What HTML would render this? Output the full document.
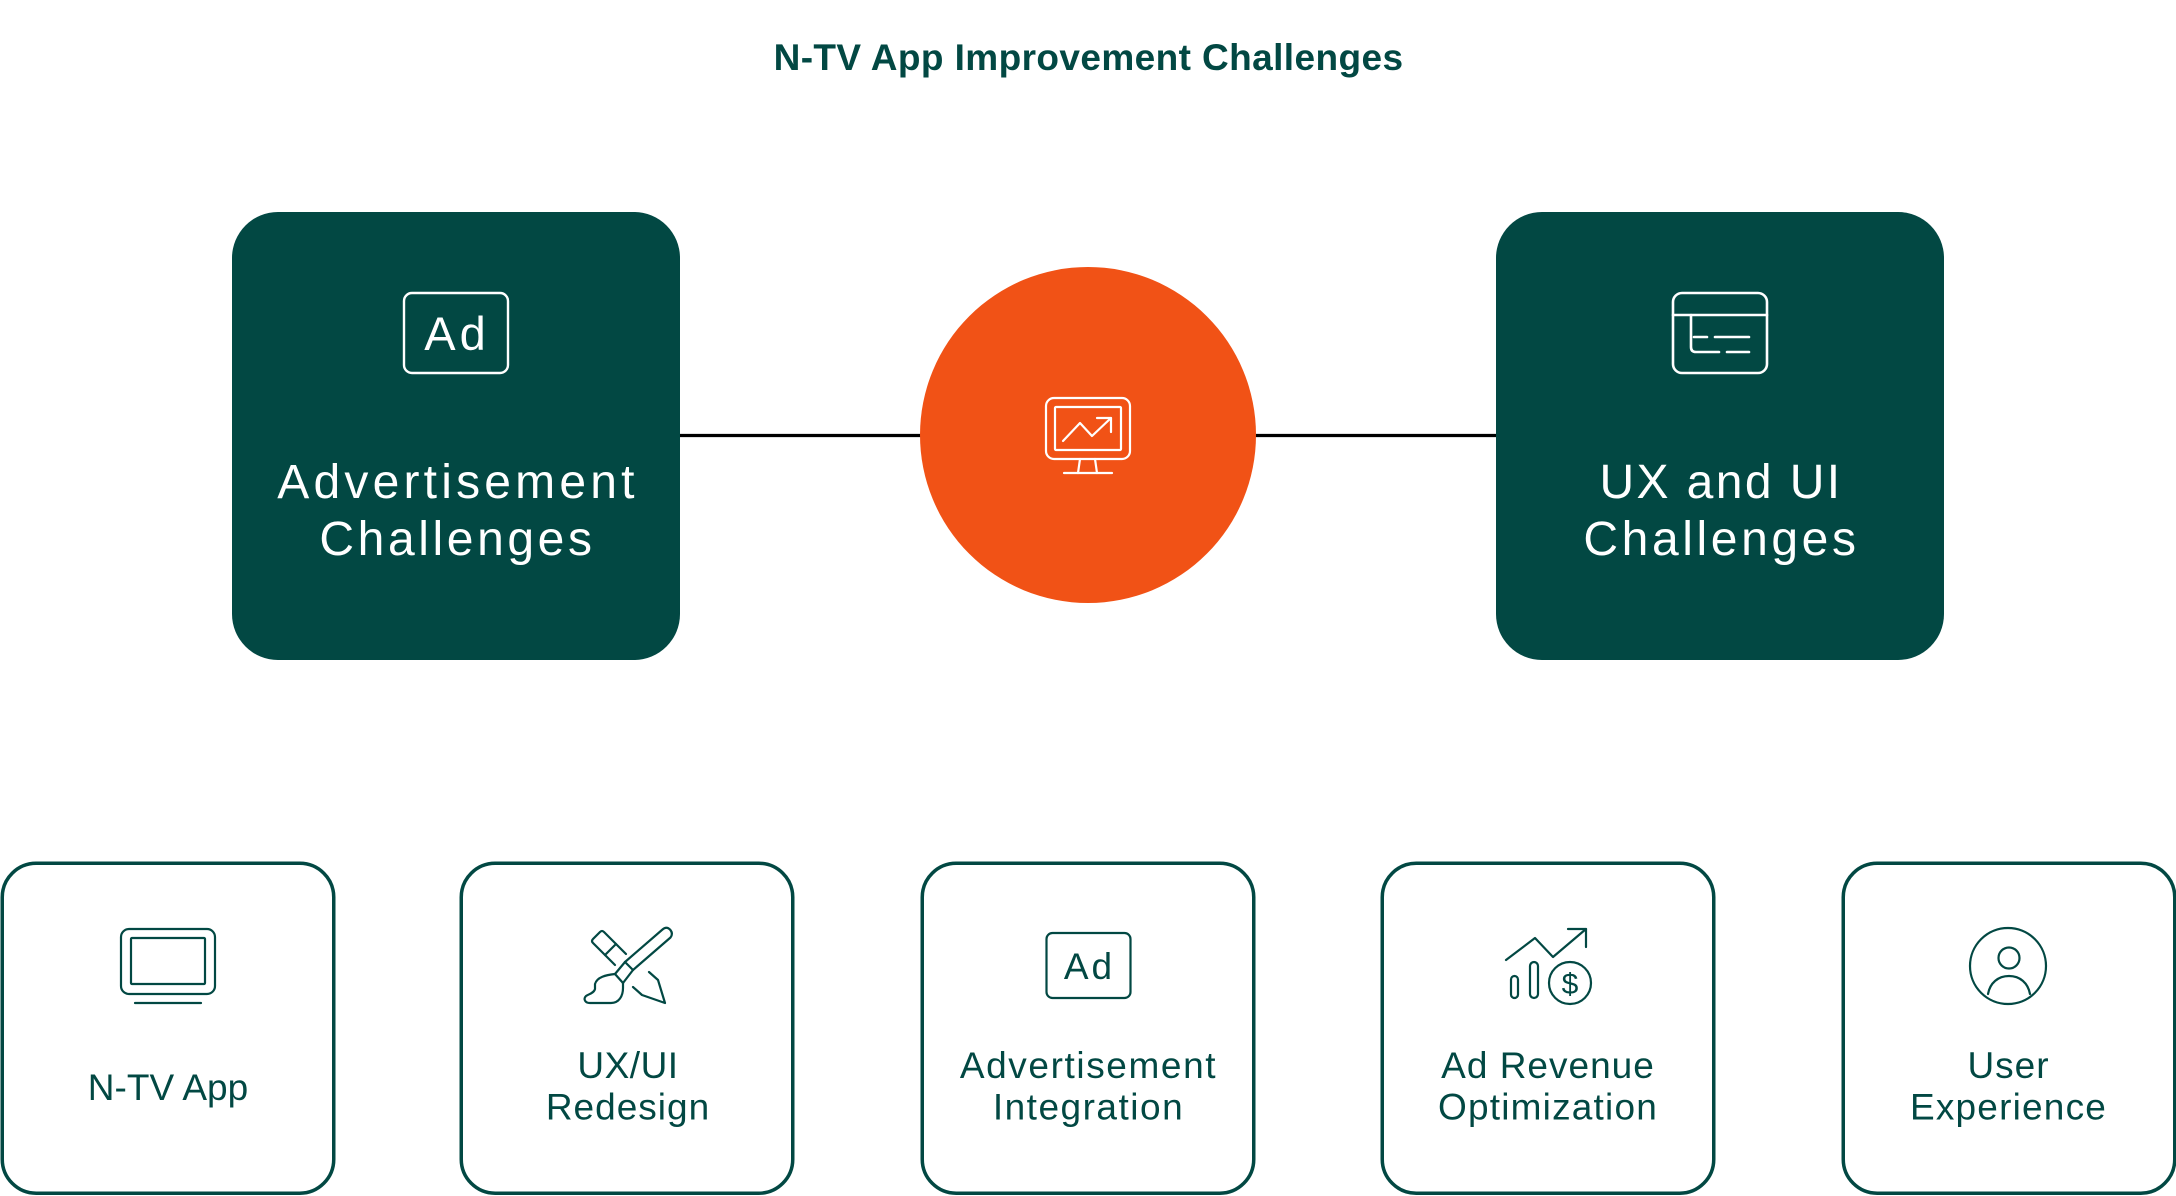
<!DOCTYPE html>
<html>
<head>
<meta charset="utf-8">
<style>
  html,body{margin:0;padding:0;background:#ffffff;}
  body{width:2176px;height:1196px;overflow:hidden;}
  svg{display:block;}
  .t{font-family:"Liberation Sans",Arial,sans-serif;}
</style>
</head>
<body>
<svg width="2176" height="1196" viewBox="0 0 2176 1196" xmlns="http://www.w3.org/2000/svg">
  <rect x="0" y="0" width="2176" height="1196" fill="#ffffff"/>

  <!-- Title -->
  <text class="t" x="1088.5" y="70" text-anchor="middle" font-size="37" font-weight="bold" fill="#024843" letter-spacing="0.4">N-TV App Improvement Challenges</text>

  <!-- Connector line -->
  <line x1="678" y1="435.5" x2="1498" y2="435.5" stroke="#000000" stroke-width="3.2"/>

  <!-- Left dark box -->
  <rect x="232" y="212" width="448" height="448" rx="46" ry="46" fill="#024843"/>
  <rect x="404" y="293" width="104" height="80" rx="8" ry="8" fill="none" stroke="#ffffff" stroke-width="2.4"/>
  <text class="t" x="457" y="350" text-anchor="middle" font-size="47" fill="#ffffff" letter-spacing="4">Ad</text>
  <text class="t" x="458" y="498" text-anchor="middle" font-size="48" fill="#ffffff" letter-spacing="4.2">Advertisement</text>
  <text class="t" x="457.5" y="555" text-anchor="middle" font-size="48" fill="#ffffff" letter-spacing="3.6">Challenges</text>

  <!-- Right dark box -->
  <rect x="1496" y="212" width="448" height="448" rx="46" ry="46" fill="#024843"/>
  <g fill="none" stroke="#ffffff" stroke-width="2.6" stroke-linecap="round">
    <rect x="1673" y="293" width="94" height="80" rx="9" ry="9"/>
    <line x1="1673" y1="315" x2="1767" y2="315"/>
    <path d="M1691,315 V347 Q1691,352 1696,352 H1719"/>
    <line x1="1694" y1="337" x2="1707" y2="337"/>
    <line x1="1715" y1="337" x2="1749" y2="337"/>
    <line x1="1727" y1="352" x2="1749" y2="352"/>
  </g>
  <text class="t" x="1721" y="498" text-anchor="middle" font-size="48" fill="#ffffff" letter-spacing="2.4">UX and UI</text>
  <text class="t" x="1721.5" y="555" text-anchor="middle" font-size="48" fill="#ffffff" letter-spacing="3.6">Challenges</text>

  <!-- Center orange circle -->
  <circle cx="1088" cy="435" r="168" fill="#F15216"/>
  <g fill="none" stroke="#ffffff" stroke-width="2.2" stroke-linecap="round" stroke-linejoin="round">
    <rect x="1046" y="398" width="84" height="61" rx="8" ry="8"/>
    <rect x="1055" y="407" width="66" height="43" rx="1"/>
    <line x1="1080" y1="459" x2="1078" y2="473"/>
    <line x1="1095" y1="459" x2="1097" y2="473"/>
    <line x1="1064" y1="473" x2="1112" y2="473"/>
    <polyline points="1063,441 1080,423 1092,436 1111,418"/>
    <polyline points="1097,418 1111,418 1111,432"/>
  </g>

  <!-- Bottom boxes -->
  <g fill="none" stroke="#024843" stroke-width="3.5">
    <rect x="2.25" y="863.25" width="331.5" height="330" rx="34" ry="34"/>
    <rect x="461.25" y="863.25" width="331.5" height="330" rx="34" ry="34"/>
    <rect x="922.25" y="863.25" width="331.5" height="330" rx="34" ry="34"/>
    <rect x="1382.25" y="863.25" width="331.5" height="330" rx="34" ry="34"/>
    <rect x="1843.25" y="863.25" width="331.5" height="330" rx="34" ry="34"/>
  </g>

  <!-- Box 1 icon: TV -->
  <g fill="none" stroke="#024843" stroke-width="2.2" stroke-linecap="round">
    <rect x="121" y="929" width="94" height="65" rx="8" ry="8"/>
    <rect x="131" y="938" width="74" height="46" rx="1"/>
    <line x1="135" y1="1003" x2="201" y2="1003"/>
  </g>
  <text class="t" x="168" y="1100" text-anchor="middle" font-size="37" fill="#024843">N-TV App</text>

  <!-- Box 2 icon: pencil & brush -->
  <g fill="none" stroke="#024843" stroke-width="2.2" stroke-linecap="round" stroke-linejoin="round">
    <path d="M626,954 L604,932 Q602,930 600,932 L593,939 Q591,941 593,943 L615,965"/>
    <line x1="605" y1="955" x2="616" y2="944"/>
    <path d="M633,987 L642,995 L665,1003 L658,980 L649,972"/>
    <path d="M625,962 L662.5,929.5 Q666.5,926 670,929.5 Q673.5,933.5 670.5,937.5 L633,970"/>
    <line x1="625" y1="962" x2="633" y2="970"/>
    <path d="M625,962 L615,974 M633,970 L623,983"/>
    <line x1="615" y1="974" x2="623" y2="983"/>
    <path d="M615,974 C606,975 597,977 595,984 L595,989 C594,993 589,994 586,996 C583,999 585,1003 590,1003 L611,1003 C619,1003 623,996 623,988 L623,983"/>
  </g>
  <text class="t" x="628" y="1078" text-anchor="middle" font-size="37" fill="#024843" letter-spacing="0.5">UX/UI</text>
  <text class="t" x="628" y="1119.5" text-anchor="middle" font-size="37" fill="#024843" letter-spacing="1">Redesign</text>

  <!-- Box 3 icon: Ad -->
  <rect x="1046.5" y="933" width="84" height="65" rx="6" ry="6" fill="none" stroke="#024843" stroke-width="2.2"/>
  <text class="t" x="1089.5" y="979" text-anchor="middle" font-size="37" fill="#024843" letter-spacing="3">Ad</text>
  <text class="t" x="1088.5" y="1078" text-anchor="middle" font-size="37" fill="#024843" letter-spacing="1.6">Advertisement</text>
  <text class="t" x="1088.5" y="1119.5" text-anchor="middle" font-size="37" fill="#024843" letter-spacing="1.5">Integration</text>

  <!-- Box 4 icon: revenue -->
  <g fill="none" stroke="#024843" stroke-width="2.2" stroke-linecap="round" stroke-linejoin="round">
    <polyline points="1506,960 1535,938 1553,957 1586,929"/>
    <polyline points="1568,929 1586,929 1586,947"/>
    <rect x="1511" y="976" width="7" height="22" rx="3.5"/>
    <rect x="1530" y="962" width="8" height="36" rx="4"/>
    <circle cx="1570" cy="983" r="21"/>
  </g>
  <text class="t" x="1570" y="994" text-anchor="middle" font-size="30" fill="#024843">$</text>
  <text class="t" x="1548" y="1078" text-anchor="middle" font-size="37" fill="#024843" letter-spacing="1">Ad Revenue</text>
  <text class="t" x="1548" y="1119.5" text-anchor="middle" font-size="37" fill="#024843" letter-spacing="1.2">Optimization</text>

  <!-- Box 5 icon: user -->
  <g fill="none" stroke="#024843" stroke-width="2.2" stroke-linecap="round">
    <circle cx="2008" cy="966" r="38"/>
    <circle cx="2009" cy="958" r="10.5"/>
    <path d="M1988,994 C1990,983 1998,976 2009,976 C2020,976 2028,983 2030,994"/>
  </g>
  <text class="t" x="2008.5" y="1078" text-anchor="middle" font-size="37" fill="#024843" letter-spacing="1">User</text>
  <text class="t" x="2008.5" y="1119.5" text-anchor="middle" font-size="37" fill="#024843" letter-spacing="1.2">Experience</text>
</svg>
</body>
</html>
